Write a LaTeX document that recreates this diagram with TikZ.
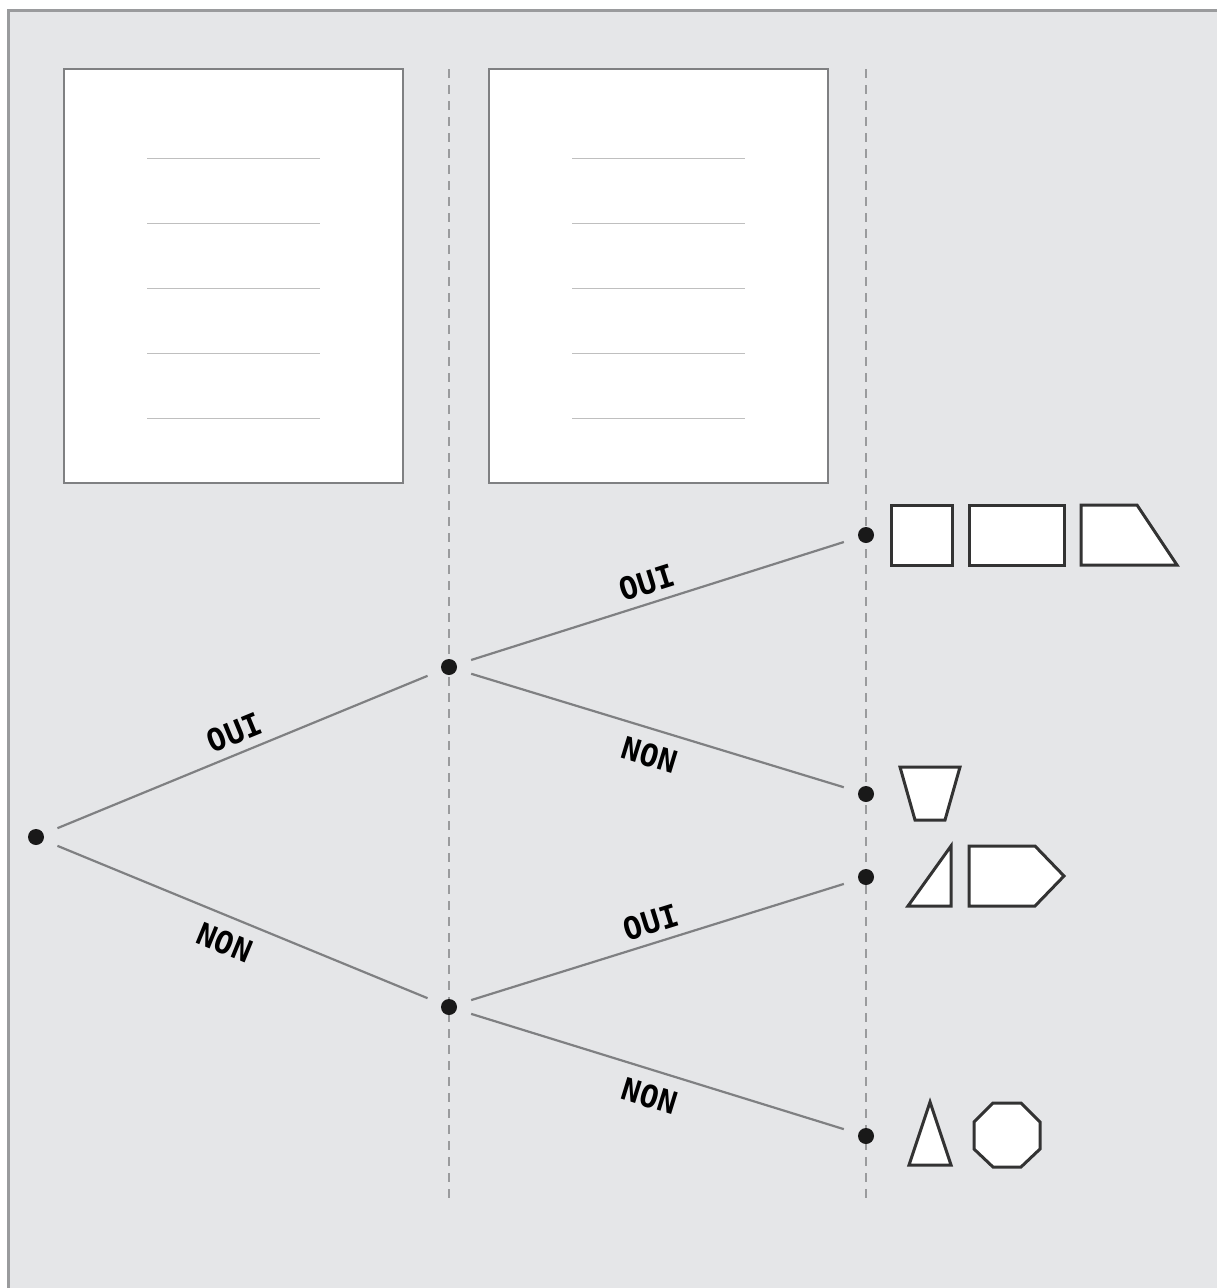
\documentclass[tikz,border=0pt]{standalone}
\usepackage{fontspec}
\newfontfamily\lblfont{DejaVu Sans Mono}
\usetikzlibrary{positioning}

\definecolor{panelgray}{HTML}{E5E6E8}
\definecolor{framegray}{HTML}{9A9B9D}
\definecolor{linegray}{HTML}{7F8082}
\definecolor{shapeink}{HTML}{333333}

\tikzset{
  dot/.style={circle, fill=black!90, inner sep=0pt, minimum size=16pt},
  branch/.style={draw=linegray, line width=2.2pt, shorten >=15pt, shorten <=15pt},
  lbl/.style={font=\lblfont\bfseries\fontsize{31}{34}\selectfont, sloped, inner sep=8pt},
  lblyes/.style={lbl, above},
  lblno/.style={lbl, below, inner sep=13pt},
  guide/.style={draw=framegray, line width=2.4pt, dash pattern=on 9pt off 7pt},
  sheet/.style={draw=linegray, line width=2.2pt, fill=white},
  rule/.style={draw=black!25, line width=1pt},
  figure/.style={draw=shapeink, line width=3pt, fill=white, line join=miter}
}

\begin{document}
\begin{tikzpicture}[x=1pt, y=-1pt]
\useasboundingbox (0,0) rectangle (1217,1288);
% ---------- background panel ----------
\fill[white] (0,0) rectangle (1217,1288);
\fill[panelgray] (8,10) rectangle (1217,1288);
\draw[framegray, line width=3pt] (8,1288) -- (8,10) -- (1217,10);
% ---------- two sheets ----------
\draw[sheet] (64,69) rectangle (403,483);
\draw[sheet] (489,69) rectangle (828,483);
\foreach \y in {158,223,288,353,418} {
  \draw[rule] (147,\y) -- (320,\y);
  \draw[rule] (572,\y) -- (745,\y);
}
% ---------- dashed guides ----------
\coordinate (g1top) at (449,69);
\coordinate (g1bot) at (449,1198);
\coordinate (g2top) at (866,69);
\coordinate (g2bot) at (866,1198);
\draw[guide] (g1top) -- (g1bot);
\draw[guide] (g2top) -- (g2bot);
% ---------- tree ----------
\node[dot] (root) at (36,837) {};
\node[dot] (up) at (449,667) {};
\node[dot] (down) at (449,1007) {};
\node[dot] (leafA) at (866,535) {};
\node[dot] (leafB) at (866,794) {};
\node[dot] (leafC) at (866,877) {};
\node[dot] (leafD) at (866,1136) {};
\draw[branch] (root) -- node[lblyes, pos=0.5] {OUI} (up);
\draw[branch] (root) -- node[lblno, pos=0.48] {NON} (down);
\draw[branch] (up) -- node[lblyes, pos=0.49] {OUI} (leafA);
\draw[branch] (up) -- node[lblno, pos=0.5] {NON} (leafB);
\draw[branch] (down) -- node[lblyes, pos=0.5] {OUI} (leafC);
\draw[branch] (down) -- node[lblno, pos=0.5] {NON} (leafD);
% ---------- shapes at the leaves ----------
\draw[figure] (891,505) rectangle (952,565);
\draw[figure] (969,505) rectangle (1064,565);
\draw[figure] (1081,505) -- (1137,505) -- (1177,565) -- (1081,565) -- cycle;
\draw[figure] (900,767) -- (960,767) -- (945,820) -- (915,820) -- cycle;
\draw[figure] (908,906) -- (951,846) -- (951,906) -- cycle;
\draw[figure] (969,846) -- (1035,846) -- (1064,876) -- (1035,906) -- (969,906) -- cycle;
\draw[figure] (930,1102) -- (951,1165) -- (909,1165) -- cycle;
\draw[figure] (993,1103) -- (1021,1103) -- (1040,1122) -- (1040,1149) -- (1021,1167)
  -- (993,1167) -- (974,1149) -- (974,1122) -- cycle;
\end{tikzpicture}
\end{document}
